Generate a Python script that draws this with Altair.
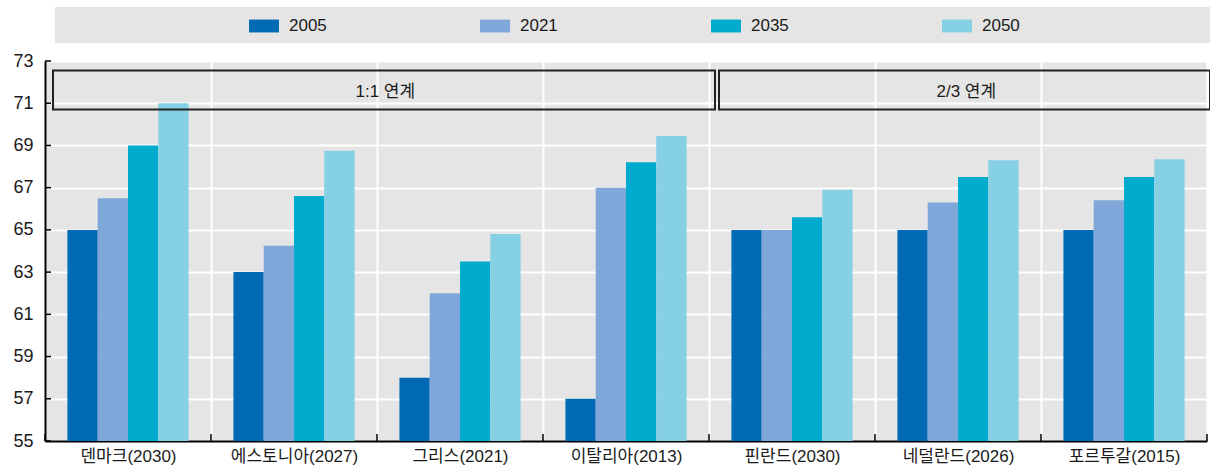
import altair as alt
import pandas as pd

# Categories: country (year of linkage)
countries = ["덴마크(2030)", "에스토니아(2027)", "그리스(2021)", "이탈리아(2013)",
             "핀란드(2030)", "네덜란드(2026)", "포르투갈(2015)"]
years = ["2005", "2021", "2035", "2050"]

# Statutory retirement age by year
v2005 = [65, 63, 58, 57, 65, 65, 65]
v2021 = [66.5, 64.25, 62, 67, 65, 66.3, 66.4]
v2035 = [69, 66.6, 63.5, 68.2, 65.6, 67.5, 67.5]
v2050 = [71, 68.75, 64.8, 69.45, 66.9, 68.3, 68.35]

colors = ["#006ab5", "#7fa7d9", "#00abcd", "#85d1e3"]

# Linkage groups drawn as boxes across the top
group_labels = ["1:1 연계", "2/3 연계"]
group_first = ["덴마크(2030)", "핀란드(2030)"]
group_last = ["이탈리아(2013)", "포르투갈(2015)"]
group_label_at = ["그리스(2021)", "네덜란드(2026)"]
group_label_band = [0.05, 0.55]
group_left_pad = [8, 10]
group_right_pad = [6, 3]
box_top, box_bottom = 72.55, 70.7

y_ticks = list(range(55, 74, 2))

FONT = "Liberation Sans, Noto Sans CJK KR"
BG = "#e5e5e5"

rows = []
for series, vals in zip(years, [v2005, v2021, v2035, v2050]):
    for c, v in zip(countries, vals):
        rows.append({"country": c, "year": series, "value": v})
df = pd.DataFrame(rows)

x_scale = alt.Scale(domain=countries, paddingInner=0, paddingOuter=0)
y_scale = alt.Scale(domain=[55, 73], nice=False, zero=False)

# Legend strip behind the legend entries
strip = alt.Chart(pd.DataFrame({"k": [0]})).mark_rect(color=BG).encode(
    x=alt.value(10), x2=alt.value(1165), y=alt.value(-54), y2=alt.value(-18)
)

bars = alt.Chart(df).mark_bar().encode(
    x=alt.X("country:N", sort=countries, scale=x_scale, title=None,
            axis=alt.Axis(tickBand="extent", grid=True, gridColor="white", gridWidth=2,
                          ticks=False, domainColor="black", domainWidth=2,
                          labelFontSize=17, labelFont=FONT, labelColor="#1a1a1a",
                          labelPadding=7, labelAngle=0, labelLimit=300)),
    xOffset=alt.XOffset("year:N", sort=years,
                        scale=alt.Scale(domain=years, paddingOuter=0.74, paddingInner=0)),
    y=alt.Y("value:Q", scale=y_scale, title=None,
            axis=alt.Axis(values=y_ticks, grid=True, gridColor="white", gridWidth=2,
                          ticks=False, domainColor="black", domainWidth=2,
                          labelFontSize=18, labelFont=FONT, labelColor="#1a1a1a",
                          labelPadding=12)),
    y2=alt.datum(55),
    color=alt.Color("year:N", sort=years, scale=alt.Scale(domain=years, range=colors),
                    legend=alt.Legend(orient="none", legendX=204, legendY=-50,
                                      direction="horizontal", columns=4, title=None,
                                      symbolType="M-1,-0.43H1V0.43H-1Z", symbolSize=900,
                                      symbolStrokeWidth=0, symbolOpacity=1,
                                      labelFontSize=17, labelFont=FONT, labelColor="#1a1a1a",
                                      labelOffset=10, columnPadding=153, gridAlign="all",
                                      padding=0)),
)

layers = [strip, bars]

for i in range(len(group_labels)):
    gdf = pd.DataFrame({
        "first": [group_first[i]], "last": [group_last[i]],
        "mid": [group_label_at[i]], "label": [group_labels[i]],
        "top": [box_top], "bottom": [box_bottom],
        "ymid": [(box_top + box_bottom) / 2],
    })
    box = alt.Chart(gdf).mark_rect(filled=False, stroke="#222222", strokeWidth=2,
                                   xOffset=group_left_pad[i],
                                   x2Offset=group_right_pad[i]).encode(
        x=alt.X("first:N", bandPosition=0, scale=x_scale, title=None),
        x2=alt.X2("last:N", bandPosition=1),
        y=alt.Y("top:Q", scale=y_scale, title=None),
        y2=alt.Y2("bottom:Q"),
    )
    txt = alt.Chart(gdf).mark_text(font=FONT, fontSize=17, color="#1a1a1a",
                                   baseline="middle", dy=2).encode(
        x=alt.X("mid:N", bandPosition=group_label_band[i], scale=x_scale, title=None),
        y=alt.Y("ymid:Q", scale=y_scale, title=None),
        text="label:N",
    )
    layers += [box, txt]

# Inward tick marks on the value axis
ytick_df = pd.DataFrame({"t": y_ticks})
yticks = alt.Chart(ytick_df).mark_rule(color="black", strokeWidth=1.5).encode(
    y=alt.Y("t:Q", scale=y_scale, title=None),
    x=alt.value(0), x2=alt.value(6),
)

# Upward tick marks at category boundaries
xtick_df = pd.DataFrame({"c": countries})
xticks = alt.Chart(xtick_df).mark_rule(color="black", strokeWidth=1.5).encode(
    x=alt.X("c:N", bandPosition=0, scale=x_scale, title=None),
    y=alt.datum(55), y2=alt.datum(55.33),
)
xtick_end = alt.Chart(pd.DataFrame({"c": [countries[-1]]})).mark_rule(
    color="black", strokeWidth=1.5).encode(
    x=alt.X("c:N", bandPosition=1, scale=x_scale, title=None),
    y=alt.datum(55), y2=alt.datum(55.33),
)
layers += [yticks, xticks, xtick_end]

chart = alt.layer(*layers).properties(
    width=1162, height=380,
    autosize=alt.AutoSizeParams(type="none"),
    padding={"left": 45, "top": 61, "right": 3, "bottom": 29},
    background="white",
).configure_view(fill=BG, stroke=None)

chart.save("out.html", embed_options={"renderer": "svg", "actions": False})
